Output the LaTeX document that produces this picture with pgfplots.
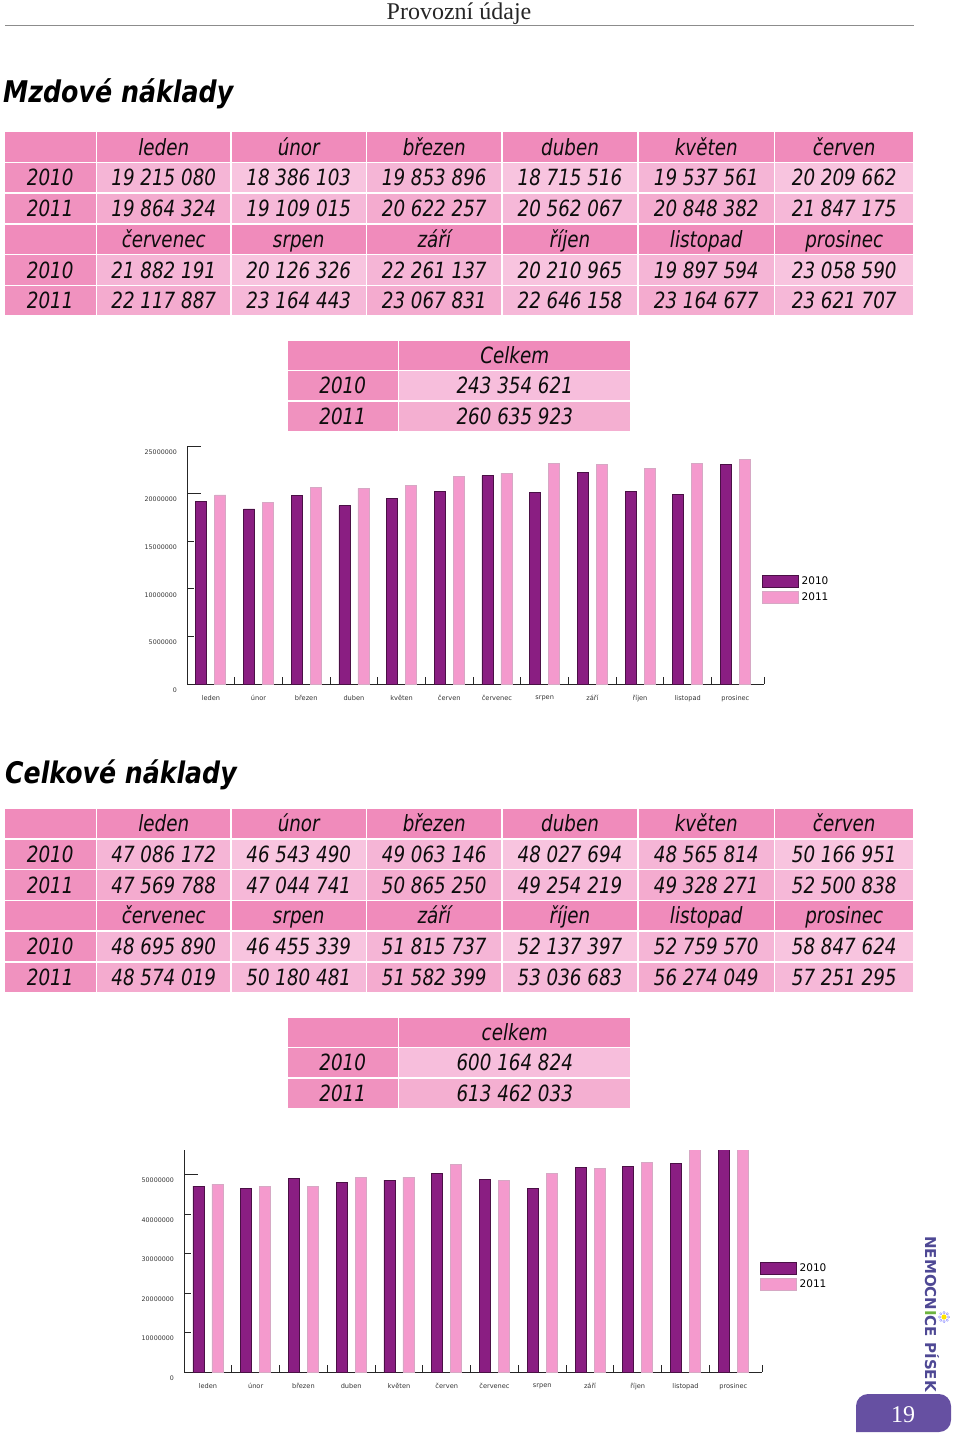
\documentclass[border=0pt]{standalone}
\usepackage{pgfplots}
\pgfplotsset{compat=1.18}
\usepackage{pgfplotstable}
\usepackage{fontspec}
\setmainfont{DejaVu Sans}
\newfontfamily\hdserif{Liberation Serif}

\definecolor{hd}{HTML}{F08BBB}
\definecolor{hd1}{HTML}{F08BBB}
\definecolor{hd2}{HTML}{F08BBB}
\definecolor{yhd}{HTML}{F08BBB}
\definecolor{ytA}{HTML}{F090BE}
\definecolor{ytB}{HTML}{F092BF}
\definecolor{tA}{HTML}{F7BEDC}
\definecolor{tB}{HTML}{F4AFD1}
\definecolor{tA1}{HTML}{F5B5D6}
\definecolor{tA2}{HTML}{F8C4DF}
\definecolor{tB1}{HTML}{F4ABCF}
\definecolor{tB2}{HTML}{F6B8D8}
\definecolor{c10}{HTML}{8A1E82}
\definecolor{c10e}{HTML}{4A1045}
\definecolor{c11}{HTML}{F49ACD}
\definecolor{c11e}{HTML}{D6A8C4}
\definecolor{logo}{HTML}{4E4894}
\definecolor{logogreen}{HTML}{6DB33F}
\definecolor{tab}{HTML}{6650A2}

\pgfplotstableread{
x mz10 mz11 ck10 ck11
0 19215080 19864324 47086172 47569788
1 18386103 19109015 46543490 47044741
2 19853896 20622257 49063146 47000000
3 18715516 20562067 48027694 49254219
4 19537561 20848382 48565814 49328271
5 20209662 21847175 50166951 52500838
6 21882191 22117887 48695890 48574019
7 20126326 23164443 46455339 50180481
8 22261137 23067831 51815737 51582399
9 20210965 22646158 52137397 53036683
10 19897594 23164677 52759570 56274049
11 23058590 23621707 58847624 57251295
}\bardata

\tikzset{cellt/.style={font=\fontsize{18.3}{20}\selectfont\itshape, text height=13.3pt, text depth=0pt, inner sep=0pt, text=black!95, anchor=center, yscale=1.22, transform shape}}

\newcommand\bigtablefill[1]{%
 \foreach \r/\k in {0/hd,1/tA,2/tB,3/hd,4/tA,5/tB}{
   \fill[y\k] (4.5, #1+\r*30.75+0.75) rectangle (95.75, #1+\r*30.75+30.0);
   \foreach \xa/\xb/\p in {96.5/231/1,231/366.5/2,366.5/502/1,502/638/2,638/774.5/1,774.5/914/2}{
     \fill[\k\p] (\xa+0.75, #1+\r*30.75+0.75) rectangle (\xb-0.75, #1+\r*30.75+30.0);
   }
 }}
\newcommand\trow[8]{%
 \node[cellt] at (50.25,#1) {#2};
 \node[cellt] at (163.75,#1) {#3};
 \node[cellt] at (298.75,#1) {#4};
 \node[cellt] at (434.25,#1) {#5};
 \node[cellt] at (570,#1) {#6};
 \node[cellt] at (706.25,#1) {#7};
 \node[cellt] at (844.25,#1) {#8};}
\newcommand\smalltable[6]{% top, head, y1, v1, y2, v2
 \fill[yhd] (287.75,#1+0.75) rectangle (397.75,#1+29.75);
 \fill[hd] (399.25,#1+0.75) rectangle (630.25,#1+29.75);
 \fill[ytA] (287.75,#1+31.25) rectangle (397.75,#1+60.25);
 \fill[tA] (399.25,#1+31.25) rectangle (630.25,#1+60.25);
 \fill[ytB] (287.75,#1+61.75) rectangle (397.75,#1+90.75);
 \fill[tB] (399.25,#1+61.75) rectangle (630.25,#1+90.75);
 \node[cellt] at (514.75,#1+15.25) {#2};
 \node[cellt] at (342.75,#1+45.75) {#3};
 \node[cellt] at (514.75,#1+45.75) {#4};
 \node[cellt] at (342.75,#1+76.25) {#5};
 \node[cellt] at (514.75,#1+76.25) {#6};}

\pgfplotsset{barlegend/.style={legend image code/.code={\draw[##1] (0pt,-6pt) rectangle (36pt,6pt);}}}
\pgfplotsset{barax/.style={
  scale only axis, anchor=south west,
  axis lines*=left, axis line style={line width=0.9pt, black!85},
  xmin=-0.5, xmax=11.6, ymin=0,
  ybar=8pt, bar width=11pt,
  tick align=inside, major tick length=7pt,
  tick style={line width=0.9pt, black!85},
  xtick={0.5,1.5,2.5,3.5,4.5,5.5,6.5,7.5,8.5,9.5,10.5,11.6},
  xticklabels={},
  extra x ticks={0,1,2,3,4,5,6,7,8,9,10,11},
  extra x tick labels={leden,únor,březen,duben,květen,červen,červenec,srpen,září,říjen,listopad,prosinec},
  extra x tick style={major tick length=0pt},
  xticklabel style={font=\fontsize{6.6}{7}\selectfont, text=black!80, yshift=-8pt},
  yticklabel style={font=\fontsize{6.3}{7}\selectfont, text=black!80, anchor=east, inner sep=0pt, xshift=-10pt, yshift=-6pt},
  scaled y ticks=false,
  extra y tick labels={},
  extra y tick style={major tick length=14pt},
  legend cell align=left,
  legend style={draw=none, fill=none, inner sep=0pt, outer sep=0pt, row sep=0pt,
    font=\fontsize{10.5}{11}\selectfont, nodes={inner sep=3pt, xshift=2pt}, anchor=north west},
}}

\begin{document}
\begin{tikzpicture}[x=1pt,y=-1pt]
\path[use as bounding box] (0,0) rectangle (960,1436);

% page header
\node[anchor=base, inner sep=0pt, font=\hdserif\fontsize{24}{26}\selectfont, text=black!85] at (459,19) {Provozní údaje};
\draw[black!45, line width=1pt] (5,25) -- (914,25);

% ---------- Mzdové náklady ----------
\node[anchor=base west, inner sep=0pt, font=\fontsize{25.3}{28}\selectfont\bfseries\itshape, yscale=1.18, transform shape] at (3,102) {Mzdové náklady};
\bigtablefill{131.5}
\trow{146.9}{}{leden}{únor}{březen}{duben}{květen}{červen}
\trow{177.6}{2010}{19 215 080}{18 386 103}{19 853 896}{18 715 516}{19 537 561}{20 209 662}
\trow{208.4}{2011}{19 864 324}{19 109 015}{20 622 257}{20 562 067}{20 848 382}{21 847 175}
\trow{239.1}{}{červenec}{srpen}{září}{říjen}{listopad}{prosinec}
\trow{269.9}{2010}{21 882 191}{20 126 326}{22 261 137}{20 210 965}{19 897 594}{23 058 590}
\trow{300.6}{2011}{22 117 887}{23 164 443}{23 067 831}{22 646 158}{23 164 677}{23 621 707}
\smalltable{340}{Celkem}{2010}{243 354 621}{2011}{260 635 923}

\begin{axis}[barax, at={(187pt,-684pt)}, width=577pt, height=238pt, ymax=25000000,
  ytick={0,5000000,10000000,15000000,20000000,25000000},
  yticklabels={0,5000000,10000000,15000000,20000000,25000000},
  extra y ticks={20000000,25000000},
  legend style={at={(0.9965,0.4622)}}]
\addplot[fill=c10, draw=c10e, line width=0.7pt, barlegend]
  table[x=x, y=mz10] {\bardata};
\addlegendentry{2010}
\addplot[fill=c11, draw=c11e, line width=0.7pt, barlegend]
  table[x=x, y=mz11] {\bardata};
\addlegendentry{2011}
\end{axis}

% ---------- Celkové náklady ----------
\node[anchor=base west, inner sep=0pt, font=\fontsize{25.2}{28}\selectfont\bfseries\itshape, yscale=1.18, transform shape] at (5,783) {Celkové náklady};
\bigtablefill{808}
\trow{823.4}{}{leden}{únor}{březen}{duben}{květen}{červen}
\trow{854.1}{2010}{47 086 172}{46 543 490}{49 063 146}{48 027 694}{48 565 814}{50 166 951}
\trow{884.9}{2011}{47 569 788}{47 044 741}{50 865 250}{49 254 219}{49 328 271}{52 500 838}
\trow{915.6}{}{červenec}{srpen}{září}{říjen}{listopad}{prosinec}
\trow{946.4}{2010}{48 695 890}{46 455 339}{51 815 737}{52 137 397}{52 759 570}{58 847 624}
\trow{977.1}{2011}{48 574 019}{50 180 481}{51 582 399}{53 036 683}{56 274 049}{57 251 295}
\smalltable{1017}{celkem}{2010}{600 164 824}{2011}{613 462 033}

\begin{axis}[barax, at={(184pt,-1372pt)}, width=578pt, height=222pt, ymax=56200000,
  ytick={0,10000000,20000000,30000000,40000000,50000000},
  yticklabels={0,10000000,20000000,30000000,40000000,50000000},
  extra y ticks={50000000},
  legend style={at={(0.9965,0.5)}}]
\addplot[fill=c10, draw=c10e, line width=0.7pt, barlegend]
  table[x=x, y=ck10] {\bardata};
\addlegendentry{2010}
\addplot[fill=c11, draw=c11e, line width=0.7pt, barlegend]
  table[x=x, y=ck11] {\bardata};
\addlegendentry{2011}
\end{axis}

% ---------- logo and page tab ----------
\node[rotate=-90, inner sep=0pt, font=\fontsize{15}{16}\selectfont\bfseries, text=logo] at (932,1314)
  {NEMOCN\textcolor{logogreen}{I}CE PÍSEK};
\foreach \a in {0,45,...,315} {\draw[blue!45, line width=0.4pt, shift={(944,1317)}] (\a:4.5) circle (1.2);}
\fill[yellow!85!orange] (944,1317) circle (2.6);
\fill[tab] (856,1432) [rounded corners=12pt] -- (856,1394) -- (951,1394) -- (951,1432) [sharp corners] -- cycle;
\node[inner sep=0pt, font=\hdserif\fontsize{24}{26}\selectfont, text=white] at (903,1415) {19};
\end{tikzpicture}
\end{document}
